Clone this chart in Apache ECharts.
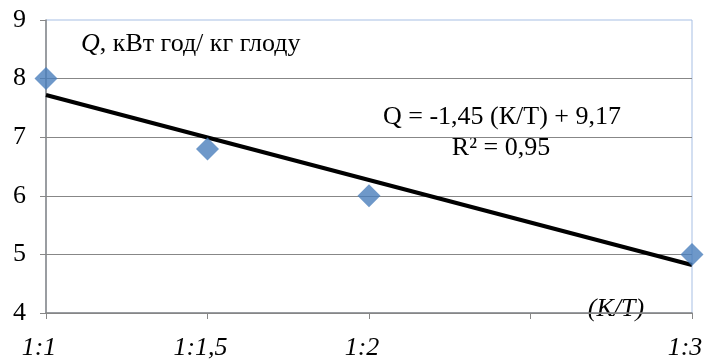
<!DOCTYPE html>
<html>
<head>
<meta charset="utf-8">
<script src="https://cdn.jsdelivr.net/npm/echarts@6/dist/echarts.min.js"></script>
<style>html,body{margin:0;padding:0;background:#fff}#c{width:706px;height:362px}</style>
</head>
<body>
<div id="c"></div>
<script>
var xValues = [1, 1.5, 2, 3];
var qValues = [8, 6.8, 6, 5];
var trendX = [1, 3];
var trendY = [7.72, 4.82];
var xTickLabels = {1: '1:1', 1.5: '1:1,5', 2: '1:2', 2.5: '', 3: '1:3'};
var yTicks = [4, 5, 6, 7, 8, 9];

var FONT = '"Liberation Serif", "Times New Roman", serif';
var chart = echarts.init(document.getElementById('c'));
chart.setOption({
  animation: false,
  grid: {left: 46, right: 14, top: 20, bottom: 49, show: true, borderColor: '#A7BFE4', borderWidth: 1,
    backgroundColor: 'transparent', outerBoundsMode: 'none', containLabel: false},
  xAxis: {
    type: 'value', min: 1, max: 3, interval: 0.5,
    axisLine: {show: true, lineStyle: {color: '#878787', width: 1.5}},
    axisTick: {show: true, length: 6, lineStyle: {color: '#878787'}},
    splitLine: {show: false},
    axisLabel: {
      margin: 22, fontFamily: FONT, fontSize: 26, fontStyle: 'italic', color: '#000',
      padding: [0, 14, 0, 0],
      formatter: function (v) { return xTickLabels[v] !== undefined ? xTickLabels[v] : ''; }
    }
  },
  yAxis: {
    type: 'value', min: 4, max: 9, interval: 1,
    axisLine: {show: true, lineStyle: {color: '#878787', width: 1.5}},
    axisTick: {show: true, length: 6, lineStyle: {color: '#878787'}},
    splitLine: {show: true, lineStyle: {color: ['#878787', '#878787', '#878787', '#878787', '#878787', 'transparent'], width: 1.2}},
    axisLabel: {margin: 20, fontFamily: FONT, fontSize: 26, color: '#000'}
  },
  series: [
    {
      type: 'line', data: trendX.map(function (x, i) { return [x, trendY[i]]; }),
      symbol: 'none', lineStyle: {color: '#000', width: 4}, z: 3
    },
    {
      type: 'scatter', data: xValues.map(function (x, i) { return [x, qValues[i]]; }),
      symbol: 'diamond', symbolSize: [23, 23], itemStyle: {color: '#4A7EBB'}, z: 4
    }
  ],
  graphic: [
    {type: 'text', left: 81, top: 31, style: {
      text: '{i|Q}, кВт год/ кг глоду',
      rich: {i: {fontStyle: 'italic', fontFamily: FONT, fontSize: 26}},
      font: '26px ' + FONT, fill: '#000'}},
    {type: 'text', x: 502, y: 117, style: {
      text: 'Q = -1,45 (К/Т) + 9,17', font: '26px ' + FONT, fill: '#000', align: 'center', verticalAlign: 'middle'}},
    {type: 'text', x: 501, y: 148, style: {
      text: 'R² = 0,95', font: '26px ' + FONT, fill: '#000', align: 'center', verticalAlign: 'middle'}},
    {type: 'text', x: 616, y: 309, style: {
      text: '(К/Т)', font: 'italic 26px ' + FONT, fill: '#000', align: 'center', verticalAlign: 'middle'}}
  ]
});
</script>
</body>
</html>
